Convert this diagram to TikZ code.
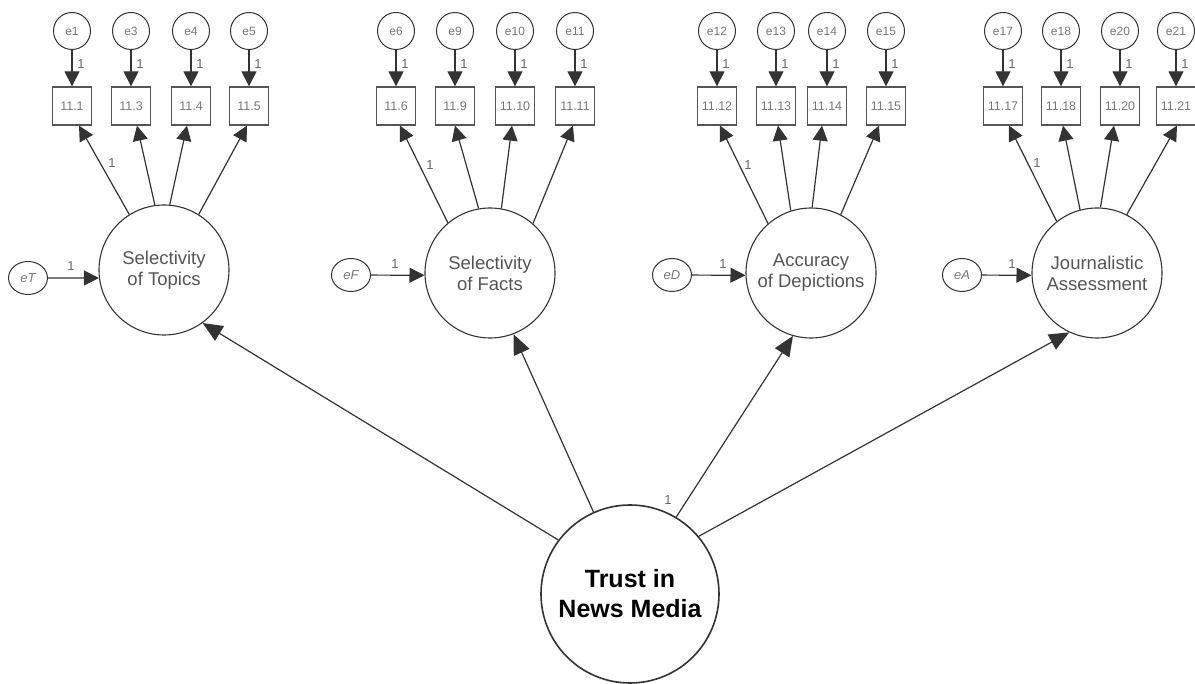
\documentclass[tikz,border=0pt]{standalone}
\usepackage{fontspec}
\setmainfont{Liberation Sans}
\usetikzlibrary{arrows.meta,shapes.geometric}
\definecolor{ln}{HTML}{333333}
\definecolor{txtg}{HTML}{777777}
\definecolor{boxc}{HTML}{555555}
\definecolor{latt}{HTML}{555555}
\definecolor{lblc}{HTML}{666666}
\tikzset{
 errc/.style={circle, draw=ln, line width=1pt, minimum size=37pt, inner sep=0pt, text=txtg, font=\fontsize{12}{12}\selectfont},
 erre/.style={ellipse, draw=ln, line width=1pt, minimum width=39pt, minimum height=33pt, inner sep=0pt, text=txtg, font=\fontsize{13}{13}\selectfont\itshape},
 obs/.style={rectangle, draw=boxc, line width=1.3pt, minimum width=39pt, minimum height=38pt, inner sep=0pt, text=txtg, font=\fontsize{12.5}{12.5}\selectfont},
 lat/.style={circle, draw=ln, line width=1.1pt, minimum size=130pt, inner sep=0pt, align=center, text=latt, font=\fontsize{18.5}{21}\selectfont},
 trustn/.style={circle, draw=ln, line width=1.6pt, minimum size=178pt, inner sep=0pt, align=center, text=black, font=\fontsize{25}{30}\selectfont\bfseries},
 loadarr/.style={draw=ln, line width=1.2pt, -{Triangle[length=15pt,width=15pt]}},
 bigarr/.style={draw=ln, line width=1.2pt, -{Triangle[length=20pt,width=17pt]}},
 lbl/.style={text=lblc, font=\fontsize{13}{13}\selectfont, inner sep=0pt},
}
\begin{document}
\begin{tikzpicture}[x=1pt,y=-1pt]
\useasboundingbox (0,0) rectangle (1195,684);
% latent variables
\node[lat] (T) at (164,270) {Selectivity\\of Topics};
\node[lat] (F) at (490,273) {Selectivity\\of Facts};
\node[lat] (D) at (811,273) {Accuracy\\of Depictions};
\node[lat] (A) at (1097,273) {Journalistic\\Assessment};
\node[trustn] (Tr) at (630,594) {Trust in\\News Media};
% disturbance terms
\node[erre] (eT) at (28,278) {eT};
\node[erre] (eF) at (351,275) {eF};
\node[erre] (eD) at (672,275) {eD};
\node[erre] (eA) at (962,275) {eA};
\draw[loadarr] (eT) -- (T.187);
\draw[loadarr] (eF) -- (F.182);
\draw[loadarr] (eD) -- (D.182);
\draw[loadarr] (eA) -- (A.182);
\node[lbl] at (71,266) {1};
\node[lbl] at (395,264) {1};
\node[lbl] at (723,264) {1};
\node[lbl] at (1012,264) {1};
% indicators
\foreach \g/\x/\e/\b/\a/\o in {T/72/e1/11.1/122/7, T/131/e3/11.3/98/6, T/191/e4/11.4/85/-4, T/249/e5/11.5/58/-2,
  F/396/e6/11.6/130/4, F/455/e9/11.9/100/0, F/515/e10/11.10/80/-3, F/575/e11/11.11/49/-2,
  D/717/e12/11.12/131/3, D/776/e13/11.13/108/2, D/827/e14/11.14/89/-5, D/886/e15/11.15/63/-7,
  A/1003/e17/11.17/128/6, A/1061/e18/11.18/105/2, A/1120/e20/11.20/87/-6, A/1176/e21/11.21/63/1} {
  \node[errc] (\e) at (\x,31) {\e};
  \node[obs] (b\e) at (\x,106) {\b};
  \draw[loadarr] (\e) -- (b\e);
  \node[lbl] at (\x+9,64) {1};
  \draw[loadarr] (\g.\a) -- ([xshift=\o pt]b\e.south);
}
\node[lbl] at (112,163) {1};
\node[lbl] at (430,165) {1};
\node[lbl] at (748,165) {1};
\node[lbl] at (1037,163) {1};
% second-order loadings
\draw[bigarr] (Tr.143) -- (T.-54);
\draw[bigarr] (Tr.114) -- (F.-69);
\draw[bigarr] (Tr.59) -- (D.-106);
\draw[bigarr] (Tr.40) -- (A.-115);
\node[lbl] at (668,500) {1};
\end{tikzpicture}
\end{document}
